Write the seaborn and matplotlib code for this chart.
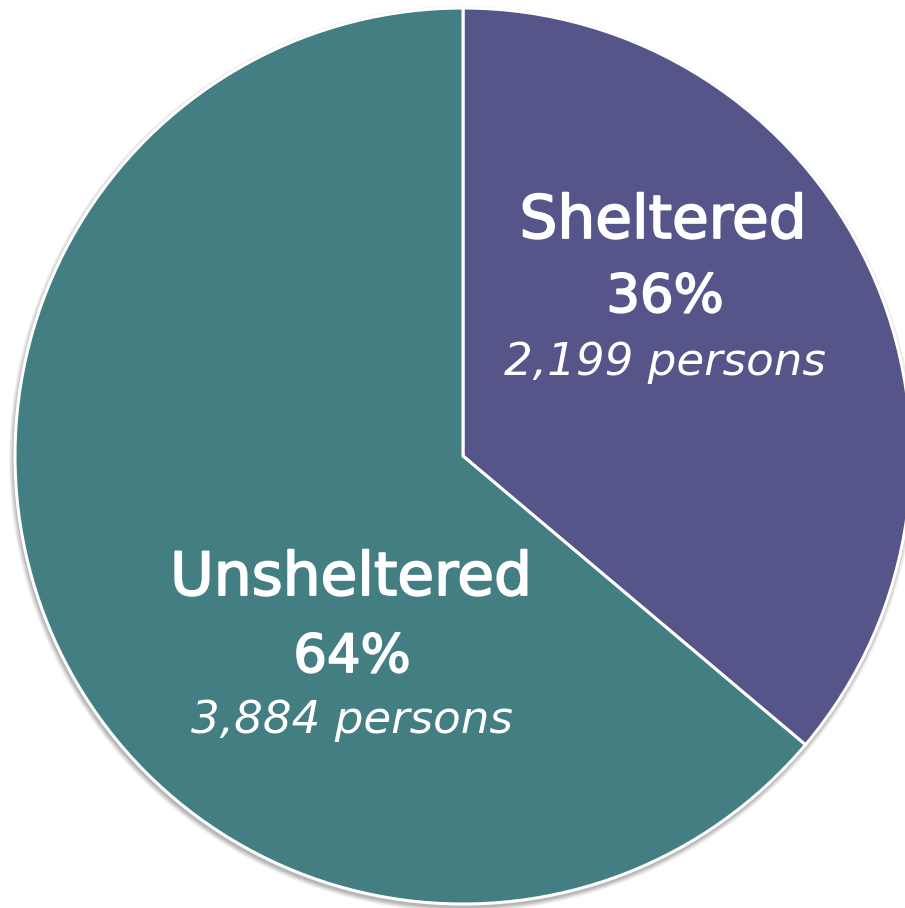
import matplotlib
matplotlib.use("Agg")
import matplotlib.pyplot as plt
import matplotlib.patheffects as pe
from matplotlib.patches import Circle
import seaborn as sns

categories = ["Sheltered", "Unsheltered"]
persons = [2199, 3884]
percent_labels = ["36%", "64%"]
colors_hex = ["#55558A", "#437E82"]

sns.set_theme(style="white")
plt.rcParams['font.family'] = ['DejaVu Sans']
palette = sns.color_palette(colors_hex)

W, H = 905, 908
fig = plt.figure(figsize=(W / 100, H / 100), dpi=100)
ax = fig.add_axes([0, 0, 1, 1])

cx, cy, r = 463, H - 456, 448

# soft shadow
for i, a in enumerate([0.05, 0.05, 0.06, 0.07, 0.08]):
    k = 5 - i
    ax.add_patch(Circle((cx - 1, cy - 3), r + k, color="black", alpha=a, lw=0, zorder=0))

wedges, _ = ax.pie(persons, colors=palette, startangle=90, counterclock=False,
                   center=(cx, cy), radius=r, frame=True,
                   wedgeprops=dict(edgecolor="white", linewidth=2.2))
for w in wedges:
    w.set_zorder(2)

ax.set_xlim(0, W)
ax.set_ylim(0, H)
ax.set_aspect("equal")
ax.axis("off")

thick = [pe.withStroke(linewidth=1.3, foreground="white")]
label_pos = [(663, H - 238), (351, H - 595)]
pct_pos = [(665, H - 312), (352, H - 672)]
cnt_pos = [(665, H - 375), (352, H - 733)]

for i, cat in enumerate(categories):
    ax.text(*label_pos[i], cat, color="white", fontsize=43, ha="center", va="baseline",
            path_effects=thick, zorder=5)
    ax.text(*pct_pos[i], percent_labels[i], color="white", fontsize=38, ha="center",
            va="baseline", path_effects=thick, zorder=5)
    ax.text(*cnt_pos[i], f"{persons[i]:,} persons", color="white", fontsize=32.5,
            style="italic", ha="center", va="baseline", zorder=5)

fig.savefig("out.png", dpi=100, facecolor="white")
